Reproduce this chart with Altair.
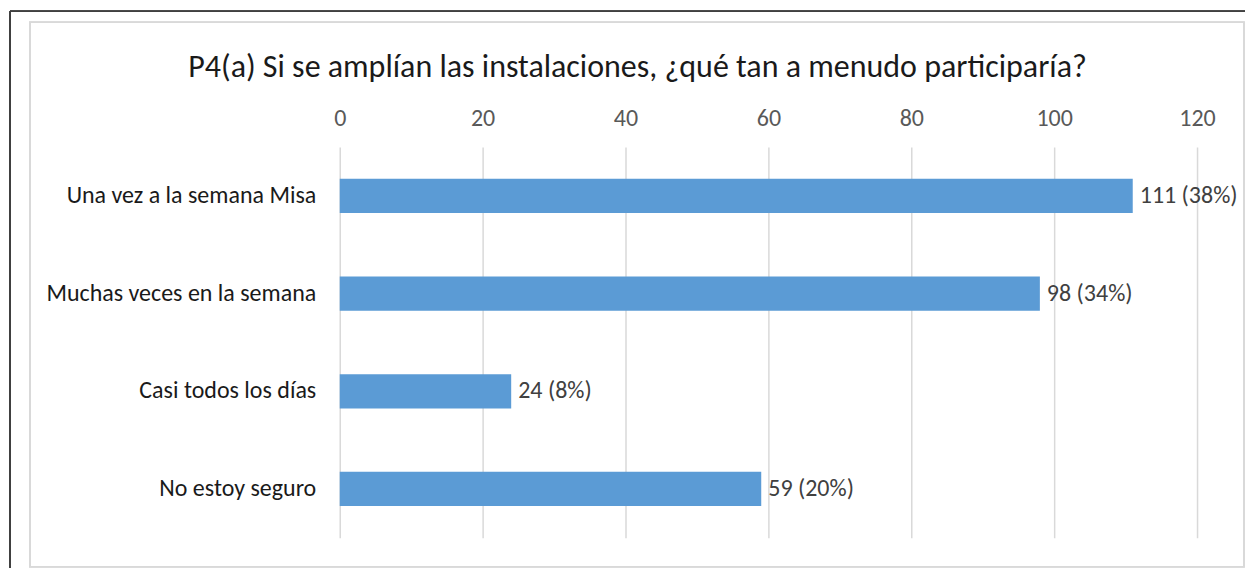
import altair as alt
import pandas as pd

categories = ["Una vez a la semana Misa", "Muchas veces en la semana", "Casi todos los días", "No estoy seguro"]
counts = [111, 98, 24, 59]
percents = ["38%", "34%", "8%", "20%"]
x_ticks = [0, 20, 40, 60, 80, 100, 120]
title_text = "P4(a) Si se amplían las instalaciones, ¿qué tan a menudo participaría?"

df = pd.DataFrame({
    "cat": categories,
    "count": counts,
    "label": [f"{c} ({p})" for c, p in zip(counts, percents)],
})
title_df = pd.DataFrame({"t": [title_text]})

FONT = "Carlito, Lato, sans-serif"
W, H = 858, 391

x_enc = alt.X("count:Q", scale=alt.Scale(domain=[0, 120], nice=False),
              axis=alt.Axis(orient="top", values=x_ticks, title=None, domain=False, ticks=False,
                            labelFlush=False,
                            labelFontSize=24, labelColor="#595959", labelFont=FONT, labelPadding=17,
                            grid=True, gridColor="#d9d9d9", gridWidth=1.5))
y_enc = alt.Y("cat:N", sort=categories,
              scale=alt.Scale(paddingInner=0.65, paddingOuter=0.325),
              axis=alt.Axis(title=None, domain=False, ticks=False, grid=False, labelLimit=400,
                            labelFontSize=24, labelColor="#1a1a1a", labelFont=FONT, labelPadding=24))

base = alt.Chart(df)
bars = base.mark_bar(color="#5b9bd5").encode(x=x_enc, y=y_enc)
texts = base.mark_text(align="left", baseline="middle", dx=7, fontSize=24, color="#404040", font=FONT).encode(
    x="count:Q", y=alt.Y("cat:N", sort=categories), text="label:N")

title_mark = alt.Chart(title_df).mark_text(align="center", baseline="middle", fontSize=32,
                                           color="#1a1a1a", font=FONT).encode(
    text="t:N", x=alt.value(298), y=alt.value(-80))

frame = alt.Chart(df).mark_rect(fill=None, stroke="#d9d9d9", strokeWidth=1.5).encode(
    x=alt.value(-310), x2=alt.value(905), y=alt.value(-125), y2=alt.value(420))
top_line = alt.Chart(df).mark_rule(color="#404040", strokeWidth=1.5).encode(
    x=alt.value(-330), x2=alt.value(913), y=alt.value(-136))
left_line = alt.Chart(df).mark_rule(color="#404040", strokeWidth=1.5).encode(
    x=alt.value(-330), y=alt.value(-136), y2=alt.value(430))

chart = alt.layer(frame, top_line, left_line, title_mark, bars, texts).properties(
    width=W, height=H,
    autosize=alt.AutoSizeParams(type="none"),
    padding={"left": 332, "top": 139, "right": 48, "bottom": 30},
).configure_view(stroke=None)

chart.save("out.html", embed_options={"renderer": "svg", "actions": False})
